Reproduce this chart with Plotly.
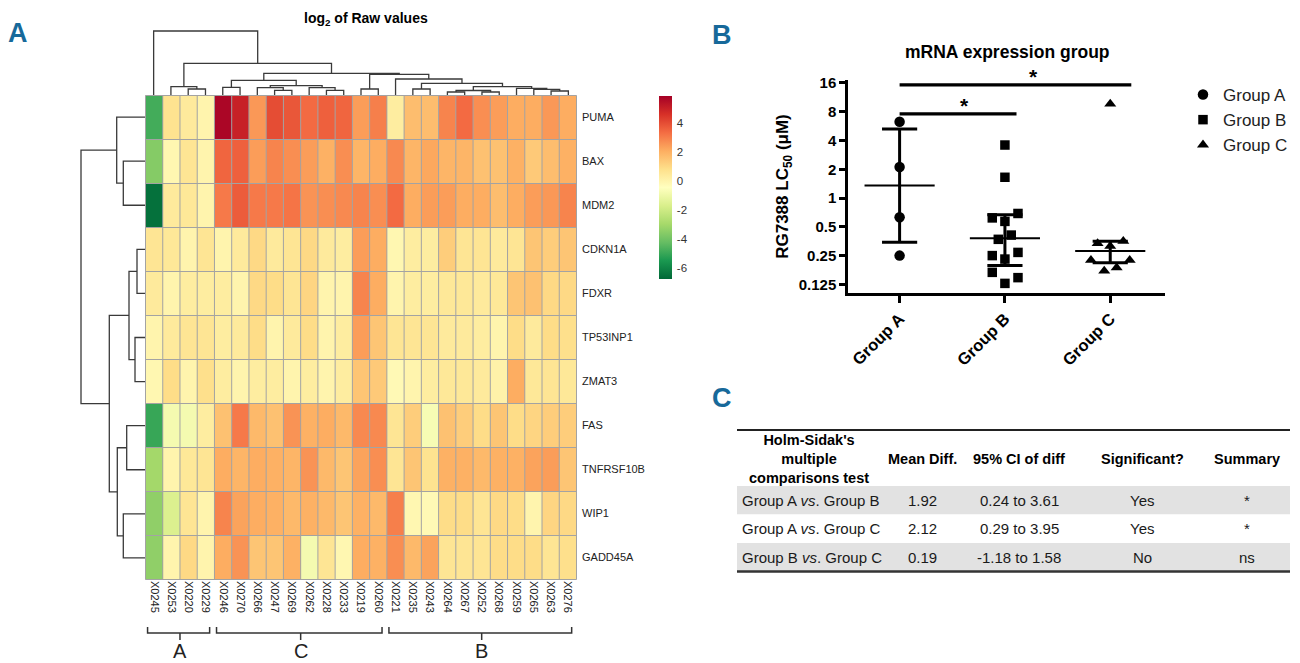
import math
import plotly.graph_objects as go

# ---------------- DATA ----------------
col_labels = ["X0245", "X0253", "X0220", "X0229", "X0246", "X0270", "X0266", "X0247",
              "X0269", "X0262", "X0228", "X0233", "X0219", "X0260", "X0221", "X0235",
              "X0243", "X0264", "X0267", "X0252", "X0268", "X0259", "X0265", "X0263", "X0276"]
gene_labels = ["PUMA", "BAX", "MDM2", "CDKN1A", "FDXR", "TP53INP1", "ZMAT3", "FAS",
               "TNFRSF10B", "WIP1", "GADD45A"]

puma      = [-4.8, 0.7, 0.4, 0.0, 5.7, 5.0, 2.5, 4.0, 3.8, 3.4, 3.6, 3.5, 2.4, 3.0, 0.3, 1.7, 1.7, 2.9, 3.4, 2.7, 2.4, 2.1, 2.1, 2.5, 2.1]
bax       = [-3.6, -0.1, 0.6, 0.0, 3.5, 3.6, 2.4, 2.9, 2.7, 2.4, 2.0, 2.7, 1.9, 2.1, 2.8, 1.9, 2.2, 1.9, 1.9, 1.6, 1.6, 2.0, 1.4, 1.7, 2.0]
mdm2      = [-6.5, 0.4, 0.5, 0.0, 3.1, 3.7, 3.1, 3.1, 3.2, 2.6, 2.7, 2.8, 2.9, 2.7, 3.4, 2.1, 2.4, 2.4, 2.1, 2.1, 1.7, 2.1, 2.4, 2.5, 2.9]
cdkn1a    = [0.6, 0.5, 0.0, 0.6, 0.0, 0.4, 1.0, 0.4, 0.6, 1.0, 0.4, 0.3, 2.4, 2.1, -0.1, 0.3, 0.3, 1.3, 0.6, 0.6, 0.4, 0.6, 1.5, 1.3, 1.5]
fdxr      = [0.4, 0.0, 0.3, 0.3, 0.3, 0.0, 1.0, 0.9, 0.6, 1.1, 0.0, 0.0, 2.9, 2.1, 0.0, 0.3, 0.3, 0.5, 0.5, 0.4, 0.5, 1.5, 1.6, 1.0, 1.0]
tp53inp1  = [0.0, 0.4, 0.6, 0.6, 0.3, 0.4, 0.9, 0.0, 0.4, 0.9, 0.0, 0.3, 2.4, 1.5, 0.6, 0.6, 0.6, 0.4, 0.4, 0.3, 0.0, 0.9, 0.4, 0.9, 0.8]
zmat3     = [-0.1, 0.9, 0.0, 0.8, 0.3, 0.0, 0.3, 0.3, 0.0, 0.3, 0.0, 0.3, 1.5, 1.4, -0.2, 0.0, 0.3, 0.5, 0.5, 0.4, 0.1, 2.1, 0.5, 0.6, 0.5]
fas       = [-5.0, -0.8, -0.8, 0.3, 1.6, 3.1, 1.8, 1.6, 2.6, 2.0, 2.1, 1.8, 2.8, 2.8, 0.6, 1.3, -0.7, 1.6, 1.3, 0.9, 1.5, 0.9, 1.1, 1.3, 1.3]
tnfrsf10b = [-3.0, 0.0, 0.5, 0.6, 2.1, 1.9, 2.1, 2.0, 1.9, 2.6, 1.8, 1.5, 2.3, 2.7, 0.6, 1.5, 0.7, 2.0, 2.0, 1.8, 2.0, 2.0, 2.3, 2.4, 1.5]
wip1      = [-3.4, -1.6, 0.6, 0.0, 2.9, 2.3, 2.1, 2.0, 1.8, 2.0, 1.8, 1.5, 2.0, 1.8, 3.0, -0.1, -0.2, 0.9, 0.9, 0.6, 1.0, 0.9, 0.0, 1.1, 1.0]
gadd45a   = [-3.4, 0.0, 1.0, 0.0, 2.1, 2.6, 1.5, 1.5, 2.0, -0.8, 0.6, -0.1, 2.1, 2.0, 2.7, 1.8, 2.3, 0.6, 0.6, 0.6, 0.9, 0.9, 0.9, 0.6, 0.8]
heat_values = [puma, bax, mdm2, cdkn1a, fdxr, tp53inp1, zmat3, fas, tnfrsf10b, wip1, gadd45a]
color_min, color_max = -6.74, 5.86
colorbar_ticks = [-6, -4, -2, 0, 2, 4]
colorbar_ticktext = ["-6", "-4", "-2", "0", "2", "4"]

# column dendrogram merges: (child a, child b, height); new node ids start at 25
col_merges = [
    (17, 18, 3.0), (19, 20, 3.0), (23, 24, 4.0), (25, 26, 4.5), (7, 8, 4.7),
    (10, 11, 4.7), (22, 27, 5.7), (2, 3, 6.0), (12, 13, 6.0), (15, 16, 6.0),
    (21, 31, 6.7), (6, 29, 7.3), (9, 30, 7.3), (4, 5, 7.7), (1, 32, 8.3),
    (28, 35, 8.3), (36, 37, 9.3), (34, 40, 11.7), (38, 41, 14.7), (14, 42, 16.0),
    (33, 44, 20.7), (43, 45, 21.7), (39, 46, 31.7), (0, 47, 64.0),
]
# row dendrogram merges; new node ids start at 11
row_merges = [
    (3, 4, 8.0), (5, 6, 10.0), (7, 8, 18.3), (1, 2, 21.7), (9, 10, 21.7),
    (11, 12, 16.0), (13, 15, 27.7), (0, 14, 28.3), (16, 17, 35.7), (18, 19, 64.0),
]
# sample groups under the heatmap: (label, first column, last column)
sample_groups = [("A", 0, 3), ("C", 4, 13), ("B", 14, 24)]

# Panel B: RG7388 LC50 (uM)
groups = ["Group A", "Group B", "Group C"]
group_a_vals = [6.3, 2.11, 0.63, 0.25]
group_a_jit = [0, 0, 0, 0]
group_b_vals = [3.59, 1.65, 0.62, 0.69, 0.57, 0.37, 0.41, 0.25, 0.27, 0.23, 0.167, 0.147, 0.128]
group_b_jit = [0, 0, -0.12, 0.124, 0, -0.063, 0.06, -0.12, 0.124, 0, -0.12, 0.124, 0]
group_c_vals = [9.65, 0.335, 0.354, 0.314, 0.224, 0.224, 0.173, 0.187]
group_c_jit = [0, -0.12, 0.124, 0, -0.183, 0.185, -0.057, 0.061]
group_mean = [1.35, 0.38, 0.28]
group_sd_low = [0.344, 0.197, 0.21]
group_sd_high = [5.28, 0.67, 0.354]
y_ticks = [0.125, 0.25, 0.5, 1, 2, 4, 8, 16]
y_ticktext = ["0.125", "0.25", "0.5", "1", "2", "4", "8", "16"]
# significance bars: (from x, to x, y, label, label x)
sig_bars = [(0, 1.11, 7.6, "*", 0.62), (0, 2.2, 15.3, "*", 1.27)]

# Panel C table
tbl_header = ["Holm-Sidak's<br>multiple<br>comparisons test", "Mean Diff.",
              "95% CI of diff", "Significant?", "Summary"]
tbl_comparison = ["Group A <i>vs</i>. Group B", "Group A <i>vs</i>. Group C", "Group B <i>vs</i>. Group C"]
tbl_mean_diff = ["1.92", "2.12", "0.19"]
tbl_ci = ["0.24 to 3.61", "0.29 to 3.95", "-1.18 to 1.58"]
tbl_significant = ["Yes", "Yes", "No"]
tbl_summary = ["*", "*", "ns"]

# ---------------- LAYOUT HELPERS ----------------
W, H = 1300, 663
def px(x):
    return x / W
def py(y):
    return 1 - y / H

FONT = "Liberation Sans, Arial, Helvetica, sans-serif"
NARROW = "Liberation Sans Narrow, Arial Narrow, Liberation Sans, Arial, sans-serif"
BLUE = "#17699a"

def dendro(n, merges):
    pos = {i: float(i) for i in range(n)}
    hgt = {i: 0.0 for i in range(n)}
    ps, hs = [], []
    for k, (a, b, h) in enumerate(merges):
        ps += [pos[a], pos[a], pos[b], pos[b], None]
        hs += [hgt[a], h, h, hgt[b], None]
        pos[n + k] = (pos[a] + pos[b]) / 2
        hgt[n + k] = h
    return ps, hs

def note(x, y, text, size, color="black", family=FONT, xanchor="center", **kw):
    d = dict(x=px(x), y=py(y), xref="paper", yref="paper", text=text, showarrow=False,
             xanchor=xanchor, yanchor="middle", font=dict(family=family, size=size, color=color))
    d.update(kw)
    return d

fig = go.Figure()

# heatmap
fig.add_trace(go.Heatmap(
    z=heat_values, x=col_labels, y=gene_labels,
    colorscale="RdYlGn", reversescale=True, zmin=color_min, zmax=color_max,
    xaxis="x", yaxis="y", hoverinfo="skip",
    colorbar=dict(x=px(659), xanchor="left", y=py(187.3), yanchor="middle",
                  len=183, lenmode="pixels", thickness=13, outlinewidth=0,
                  xpad=0, ypad=0, tickvals=colorbar_ticks, ticktext=colorbar_ticktext,
                  ticks="outside", ticklen=3, tickcolor="rgba(0,0,0,0)",
                  tickfont=dict(family=FONT, size=11.5, color="#333")),
))

# column dendrogram
cx, ch = dendro(len(col_labels), col_merges)
fig.add_trace(go.Scatter(x=cx, y=ch, mode="lines", xaxis="x2", yaxis="y2",
                         line=dict(color="#3a3a3a", width=1.3), hoverinfo="skip", showlegend=False))
# row dendrogram
ry, rh = dendro(len(gene_labels), row_merges)
fig.add_trace(go.Scatter(x=rh, y=ry, mode="lines", xaxis="x3", yaxis="y3",
                         line=dict(color="#3a3a3a", width=1.3), hoverinfo="skip", showlegend=False))

# panel B points
for name, vals, jit, sym, size, gi in [
        ("Group A", group_a_vals, group_a_jit, "circle", 10.5, 0),
        ("Group B", group_b_vals, group_b_jit, "square", 9.5, 1),
        ("Group C", group_c_vals, group_c_jit, "triangle-up", 10.5, 2)]:
    fig.add_trace(go.Scatter(x=[gi + j for j in jit], y=vals, mode="markers", name=name,
                             xaxis="x4", yaxis="y4",
                             marker=dict(symbol=sym, size=size, color="black"),
                             hoverinfo="skip", cliponaxis=False))

# mean and SD lines
mx, my, sx, sy = [], [], [], []
for gi in range(len(groups)):
    mx += [gi - 0.333, gi + 0.333, None]
    my += [group_mean[gi], group_mean[gi], None]
    sx += [gi, gi, None, gi - 0.167, gi + 0.167, None, gi - 0.167, gi + 0.167, None]
    sy += [group_sd_low[gi], group_sd_high[gi], None,
           group_sd_high[gi], group_sd_high[gi], None,
           group_sd_low[gi], group_sd_low[gi], None]
fig.add_trace(go.Scatter(x=mx, y=my, mode="lines", xaxis="x4", yaxis="y4",
                         line=dict(color="black", width=2), hoverinfo="skip", showlegend=False))
fig.add_trace(go.Scatter(x=sx, y=sy, mode="lines", xaxis="x4", yaxis="y4",
                         line=dict(color="black", width=3), hoverinfo="skip", showlegend=False))

# significance bars
bx, by = [], []
for x0, x1, yv, lab, lx in sig_bars:
    bx += [x0, x1, None]
    by += [yv, yv, None]
fig.add_trace(go.Scatter(x=bx, y=by, mode="lines", xaxis="x4", yaxis="y4",
                         line=dict(color="black", width=3.2), hoverinfo="skip", showlegend=False))

shapes = []
annotations = []
# heatmap cell borders
for i in range(len(col_labels) + 1):
    shapes.append(dict(type="line", xref="x", yref="y", x0=i - 0.5, x1=i - 0.5,
                       y0=-0.5, y1=len(gene_labels) - 0.5, line=dict(color="#a3a3a3", width=1)))
for j in range(len(gene_labels) + 1):
    shapes.append(dict(type="line", xref="x", yref="y", y0=j - 0.5, y1=j - 0.5,
                       x0=-0.5, x1=len(col_labels) - 0.5, line=dict(color="#a3a3a3", width=1)))
# brackets under heatmap
for lab, c0, c1 in sample_groups:
    x0, x1, xc = c0 - 0.38, c1 + 0.22, (c0 + c1) / 2
    shapes.append(dict(type="path", xref="x", yref="paper",
                       path="M %f,%f L %f,%f L %f,%f L %f,%f M %f,%f L %f,%f" % (
                           x0, py(627), x0, py(633), x1, py(633), x1, py(627),
                           xc, py(633), xc, py(640)),
                       line=dict(color="#333", width=1.5)))
    annotations.append(dict(x=xc, y=py(651), xref="x", yref="paper", text=lab,
                            showarrow=False, font=dict(family=FONT, size=20, color="#222"),
                            xanchor="center", yanchor="middle"))

# significance stars
for x0, x1, yv, lab, lx in sig_bars:
    annotations.append(dict(x=lx, y=math.log10(yv), xref="x4", yref="y4", text="<b>%s</b>" % lab,
                            showarrow=False, xanchor="center", yanchor="bottom", yshift=-5,
                            font=dict(family=FONT, size=21, color="black")))

# ---------------- TABLE (panel C) ----------------
TBL_L, TBL_R = 737, 1290
TBL_TOP, HEAD_BOT = 430, 486
ROW_H = 28.5
col_x = [740, 922, 1019, 1142, 1247]
row_fill = ["#e2e2e2", "white", "#e2e2e2"]
shapes.append(dict(type="line", xref="paper", yref="paper", x0=px(TBL_L), x1=px(TBL_R),
                   y0=py(TBL_TOP), y1=py(TBL_TOP), line=dict(color="#222", width=2)))
for ci, htxt in enumerate(tbl_header):
    xc = 809 if ci == 0 else col_x[ci]
    annotations.append(note(xc, (TBL_TOP + HEAD_BOT) / 2 + 1, "<b>%s</b>" % htxt, 14.5, align="center"))
table_cols = [tbl_comparison, tbl_mean_diff, tbl_ci, tbl_significant, tbl_summary]
for ri in range(len(tbl_comparison)):
    y0 = HEAD_BOT + ri * ROW_H
    shapes.append(dict(type="rect", xref="paper", yref="paper", x0=px(TBL_L), x1=px(TBL_R),
                       y0=py(y0 + ROW_H), y1=py(y0), fillcolor=row_fill[ri], line=dict(width=0),
                       layer="below"))
    for ci, col in enumerate(table_cols):
        annotations.append(note(col_x[ci], y0 + ROW_H / 2, col[ri], 15, color="#1a1a1a",
                                xanchor="left" if ci == 0 else "center"))
shapes.append(dict(type="line", xref="paper", yref="paper", x0=px(TBL_L), x1=px(TBL_R),
                   y0=py(HEAD_BOT + 3 * ROW_H), y1=py(HEAD_BOT + 3 * ROW_H),
                   line=dict(color="#333", width=2.5)))

# titles and panel letters
annotations += [
    note(366, 19, "<b>log<sub>2</sub> of Raw values</b>", 14),
    note(1007, 52, "<b>mRNA expression group</b>", 17.5),
    note(17.5, 33, "<b>A</b>", 27, color=BLUE, family=NARROW),
    note(722, 35, "<b>B</b>", 27, color=BLUE, family=NARROW),
    note(722, 398, "<b>C</b>", 27, color=BLUE, family=NARROW),
]

fig.update_layout(
    width=W, height=H, margin=dict(l=0, r=0, t=0, b=0, autoexpand=False),
    paper_bgcolor="white", plot_bgcolor="rgba(0,0,0,0)",
    font=dict(family=FONT, color="#222"),
    hovermode=False,
    shapes=shapes, annotations=annotations,
    xaxis=dict(domain=[px(145), px(577)], anchor="y", side="bottom", tickangle=90,
               tickfont=dict(family=FONT, size=11, color="#222"), ticks="",
               showgrid=False, zeroline=False, showline=False, automargin=False),
    yaxis=dict(domain=[py(580), py(95)], anchor="x", side="right", autorange="reversed",
               tickfont=dict(family=FONT, size=11, color="#222"), ticks="",
               ticklabelstandoff=4, showgrid=False, zeroline=False, showline=False,
               automargin=False),
    xaxis2=dict(domain=[px(145), px(577)], anchor="y2", range=[-0.5, 24.5], visible=False),
    yaxis2=dict(domain=[py(95), py(28)], anchor="x2", range=[0, 67], visible=False),
    xaxis3=dict(domain=[px(78), px(145)], anchor="y3", range=[67, 0], visible=False),
    yaxis3=dict(domain=[py(580), py(95)], anchor="x3", range=[10.5, -0.5], visible=False),
    xaxis4=dict(domain=[px(848), px(1165)], anchor="y4", range=[-0.49, 2.52],
                tickvals=[0, 1, 2], ticktext=["<b>%s</b>" % g for g in groups], tickangle=-45,
                tickfont=dict(family=FONT, size=16.5, color="black"),
                ticks="outside", ticklen=7, tickwidth=2.5, tickcolor="black",
                showline=True, linecolor="black", linewidth=2.5,
                showgrid=False, zeroline=False, automargin=False),
    yaxis4=dict(domain=[py(293), py(80)], anchor="x4", type="log",
                range=[-3.30 * math.log10(2), 4.104 * math.log10(2)],
                tickvals=y_ticks, ticktext=["<b>%s</b>" % t for t in y_ticktext],
                tickfont=dict(family=FONT, size=15, color="black"),
                ticks="outside", ticklen=6, tickwidth=2.5, tickcolor="black",
                showline=True, linecolor="black", linewidth=2.5,
                showgrid=False, zeroline=False, automargin=False,
                title=dict(text="<b>RG7388 LC<sub>50</sub> (μM)</b>", standoff=6,
                           font=dict(family=FONT, size=17, color="black"))),
    legend=dict(x=px(1183), y=py(77), xanchor="left", yanchor="top",
                font=dict(family=FONT, size=17, color="#222"),
                bgcolor="rgba(0,0,0,0)", borderwidth=0,
                itemclick=False, itemdoubleclick=False),
)

fig.write_html("out.html", config={"displayModeBar": False},
               post_script="document.body.style.margin='0px';")
